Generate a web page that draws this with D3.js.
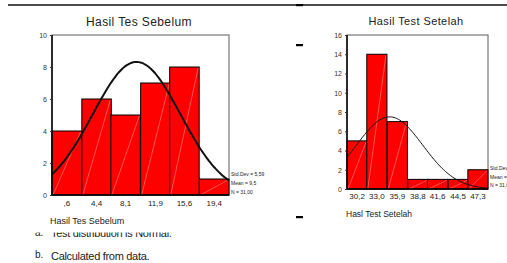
<!DOCTYPE html>
<html lang="id">
<head>
<meta charset="UTF-8">
<title>Hasil Tes</title>
<script src="https://d3js.org/d3.v7.min.js"></script>
<style>
    body { margin: 0; background: #fff; }
    svg { display: block; font-family: "Liberation Sans", Arial, sans-serif; }
</style>
</head>
<body>
<div id="chart"></div>
<script>
    // data
    const beforeLabels = [",6", "4,4", "8,1", "11,9", "15,6", "19,4"];
    const beforeCenters = [0.6, 4.4, 8.1, 11.9, 15.6, 19.4];
    const beforeCounts = [4, 6, 5, 7, 8, 1];
    const beforeStats = ["Std.Dev = 5,59", "Mean = 9,5", "N = 31,00"];
    const beforeTicks = [0, 2, 4, 6, 8, 10];

    const afterLabels = ["30,2", "33,0", "35,9", "38,8", "41,6", "44,5", "47,3"];
    const afterCenters = [30.2, 33.0, 35.9, 38.8, 41.6, 44.5, 47.3];
    const afterCounts = [5, 14, 7, 1, 1, 1, 2];
    const afterStats = ["Std.Dev = 4,70", "Mean = 34,8", "N = 31,00"];
    const afterTicks = [0, 2, 4, 6, 8, 10, 12, 14, 16];

    const W = 507, H = 263;
    const svg = d3.select('#chart').append('svg')
        .attr('width', W)
        .attr('height', H);

    // top rule and the little dashes in the middle
    svg.append('line')
        .attr('x1', 8).attr('x2', W).attr('y1', 5).attr('y2', 5)
        .attr('stroke', '#111').attr('stroke-width', 1.5);
    [5, 45, 217].forEach(y => {
        svg.append('rect')
            .attr('x', 296).attr('y', y - 1).attr('width', 7).attr('height', 2.2)
            .attr('fill', '#000');
    });

    function histogram(opt) {
        const n = opt.centers.length;
        const binW = (opt.centers[n - 1] - opt.centers[0]) / (n - 1);
        const lo = opt.centers[0] - binW / 2;
        const hi = opt.centers[n - 1] + binW / 2;

        const x = d3.scaleLinear().domain([lo, hi]).range([opt.left, opt.right]);
        const y = d3.scaleLinear().domain([0, opt.ymax]).range([opt.bottom, opt.top]);

        const g = svg.append('g');

        g.append('text')
            .attr('x', opt.titleX).attr('y', opt.titleY)
            .attr('text-anchor', 'middle')
            .attr('font-size', opt.titleSize)
            .attr('letter-spacing', 0.4)
            .attr('fill', '#222')
            .text(opt.title);

        // frame: gray top/right
        g.append('rect')
            .attr('x', opt.left).attr('y', opt.top)
            .attr('width', opt.right - opt.left).attr('height', opt.bottom - opt.top)
            .attr('fill', '#fff').attr('stroke', '#777').attr('stroke-width', 1.2);

        const bars = g.selectAll('g.bar')
            .data(opt.counts)
            .enter().append('g').attr('class', 'bar');

        bars.append('rect')
            .attr('x', (d, i) => x(opt.centers[i] - binW / 2))
            .attr('y', d => y(d))
            .attr('width', x(lo + binW) - x(lo))
            .attr('height', d => y(0) - y(d))
            .attr('fill', '#ff0000')
            .attr('stroke', '#000')
            .attr('stroke-width', 1);

        // faint white diagonal in every bar
        bars.append('line')
            .attr('x1', (d, i) => x(opt.centers[i] - binW / 2) + 1)
            .attr('y1', y(0))
            .attr('x2', (d, i) => x(opt.centers[i] + binW / 2) - 1)
            .attr('y2', d => y(d) + 1)
            .attr('stroke', '#fff')
            .attr('stroke-opacity', 0.55)
            .attr('stroke-width', 0.6);

        // normal curve
        const total = d3.sum(opt.counts);
        const curve = d3.range(0, 121).map(k => {
            const v = lo + (hi - lo) * k / 120;
            const z = (v - opt.mean) / opt.sd;
            return [v, total * binW / (opt.sd * Math.sqrt(2 * Math.PI)) * Math.exp(-z * z / 2)];
        });
        g.append('path')
            .datum(curve)
            .attr('fill', 'none')
            .attr('stroke', '#111')
            .attr('stroke-width', opt.curveWidth)
            .attr('d', d3.line().x(d => x(d[0])).y(d => y(d[1])).curve(d3.curveBasis));

        // axes lines
        g.append('line')
            .attr('x1', opt.left).attr('x2', opt.left).attr('y1', opt.top).attr('y2', opt.bottom)
            .attr('stroke', '#000').attr('stroke-width', 1.5);
        g.append('line')
            .attr('x1', opt.left).attr('x2', opt.right).attr('y1', opt.bottom).attr('y2', opt.bottom)
            .attr('stroke', '#000').attr('stroke-width', 1.5);

        // y axis
        const yAxis = g.append('g')
            .attr('transform', `translate(${opt.left},0)`)
            .call(d3.axisLeft(y).tickValues(opt.ticks).tickSize(2).tickPadding(3));
        yAxis.select('.domain').remove();
        yAxis.selectAll('text').attr('font-size', 7).attr('fill', '#333')
            .attr('font-family', '"Liberation Sans", Arial, sans-serif');
        yAxis.selectAll('line').attr('stroke', '#333');

        // x labels under bars
        g.selectAll('text.xl')
            .data(opt.labels)
            .enter().append('text')
            .attr('class', 'xl')
            .attr('x', (d, i) => x(opt.centers[i]))
            .attr('y', opt.bottom + opt.xLabelGap)
            .attr('text-anchor', 'middle')
            .attr('font-size', 8)
            .attr('fill', '#222')
            .text(d => d);

        // stats at right side
        g.selectAll('text.st')
            .data(opt.stats)
            .enter().append('text')
            .attr('class', 'st')
            .attr('x', opt.right + 2)
            .attr('y', (d, i) => opt.statsY + i * opt.statsStep)
            .attr('font-size', 5)
            .attr('fill', '#222')
            .text(d => d);

        g.append('text')
            .attr('x', opt.axisTitleX).attr('y', opt.axisTitleY)
            .attr('font-size', opt.axisTitleSize)
            .attr('fill', '#222')
            .text(opt.axisTitle);
    }

    // footnotes; line a is hidden behind the charts except for its bottom
    const defs = svg.append('defs');
    defs.append('clipPath').attr('id', 'cutA')
        .append('rect').attr('x', 0).attr('y', 232.5).attr('width', W).attr('height', 8);
    const foot = svg.append('g').attr('fill', '#222').attr('font-size', 11);
    const lineA = foot.append('g').attr('clip-path', 'url(#cutA)');
    lineA.append('text').attr('x', 35).attr('y', 236).attr('font-size', 10).text('a.');
    lineA.append('text').attr('x', 51).attr('y', 237)
        .attr('letter-spacing', -0.3).text('Test distribution is Normal.');
    foot.append('text').attr('x', 35).attr('y', 258).attr('font-size', 10).text('b.');
    foot.append('text').attr('x', 51).attr('y', 260)
        .attr('letter-spacing', -0.3).text('Calculated from data.');

    histogram({
        title: 'Hasil Tes Sebelum', titleX: 139, titleY: 26, titleSize: 12,
        left: 52, right: 229, top: 35, bottom: 195,
        centers: beforeCenters, labels: beforeLabels, counts: beforeCounts,
        ymax: 10, ticks: beforeTicks,
        mean: 9.5, sd: 5.59, curveWidth: 2,
        stats: beforeStats, statsY: 176, statsStep: 9,
        xLabelGap: 11,
        axisTitle: 'Hasil Tes Sebelum', axisTitleX: 50, axisTitleY: 224, axisTitleSize: 9
    });

    histogram({
        title: 'Hasil Test Setelah', titleX: 416, titleY: 25, titleSize: 11,
        left: 347, right: 488, top: 35, bottom: 189,
        centers: afterCenters, labels: afterLabels, counts: afterCounts,
        ymax: 16, ticks: afterTicks,
        mean: 34.8, sd: 4.7, curveWidth: 1,
        stats: afterStats, statsY: 170, statsStep: 8.5,
        xLabelGap: 10,
        axisTitle: 'Hasl Test Setelah', axisTitleX: 346, axisTitleY: 217, axisTitleSize: 8.5
    });
</script>
</body>
</html>
